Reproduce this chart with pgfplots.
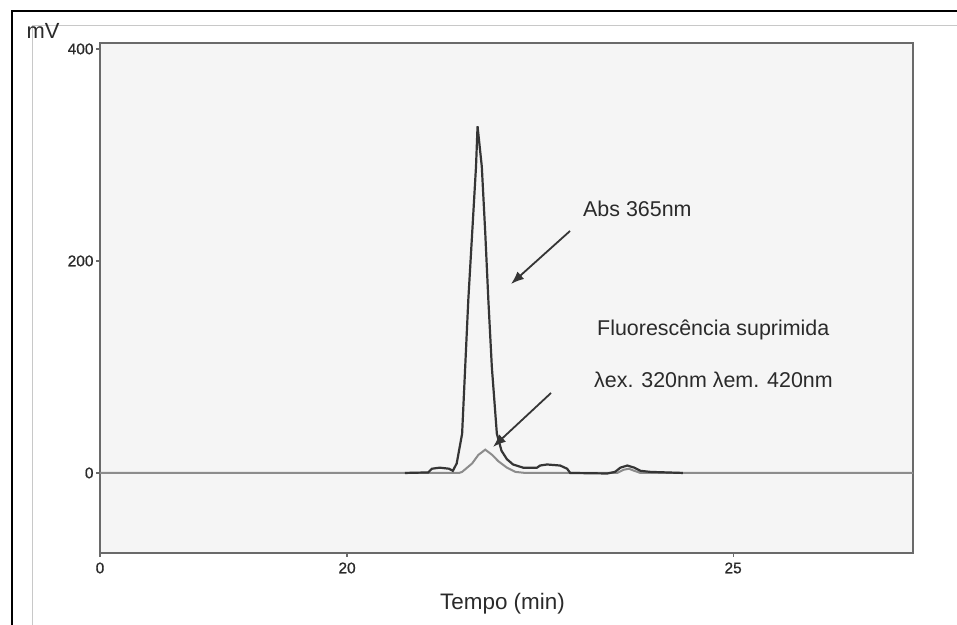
\documentclass[border=0pt]{standalone}
\usepackage{fontspec}
\setmainfont{Liberation Sans}
\newfontface\tickfont{Liberation Sans}[FakeBold=0.7]
\usepackage{pgfplots}
\pgfplotsset{compat=1.18}
\usetikzlibrary{arrows.meta}
\definecolor{curvedark}{HTML}{353535}
\definecolor{curvelight}{HTML}{8C8C8C}
\definecolor{axisgray}{HTML}{6A6A6A}
\definecolor{bggray}{HTML}{F5F5F5}
\definecolor{framegray}{HTML}{C8C8C8}
\definecolor{textdark}{HTML}{2A2A2A}
\begin{document}
\begin{tikzpicture}[x=1bp,y=1bp]
\useasboundingbox (0,0) rectangle (957,625);
\fill[white] (0,0) rectangle (957,625);
\draw[framegray, line width=1bp] (32,0) -- (32,599) -- (957,599);
\draw[black, line width=2.2bp] (12,0) -- (12,614) -- (957,614);
\begin{axis}[
  at={(100bp,72bp)}, anchor=south west,
  scale only axis, width=813bp, height=510bp,
  xmin=16.8, xmax=27.33, ymin=-75.5, ymax=405.6,
  axis background/.style={fill=bggray},
  axis line style={draw=axisgray, line width=2bp},
  xtick={16.8,20,25}, xticklabels={0,20,25},
  ytick={0,200,400}, yticklabels={0,200,400},
  tick pos=left, tick align=outside,
  major tick length=4bp,
  tick style={draw=axisgray, line width=1.2bp},
  tick label style={font=\tickfont\fontsize{15.5}{17}\selectfont, text=textdark},
  yticklabel style={xshift=1bp},
  xticklabel style={yshift=-2bp},
  clip=true,
]
\addplot[curvelight, line width=2bp] coordinates {
(16.80,0) (21.45,0) (21.49,1) (21.62,9) (21.70,17) (21.79,22) (21.88,17)
(21.96,11) (22.07,5) (22.18,1) (22.31,0) (23.50,0) (23.58,3) (23.65,4)
(23.72,2) (23.80,0) (27.33,0)
};
\addplot[curvedark, line width=2.2bp] coordinates {
(20.75,0) (21.05,0.5) (21.10,4) (21.20,5) (21.32,4) (21.37,2) (21.42,9)
(21.49,37) (21.53,100) (21.57,163) (21.62,226) (21.67,289) (21.69,327)
(21.745,289) (21.79,226) (21.83,163) (21.875,100) (21.94,37) (22.00,21)
(22.07,13) (22.15,8) (22.28,5) (22.46,5) (22.50,7) (22.59,8) (22.76,7)
(22.85,4) (22.89,0) (23.37,-0.5) (23.47,1) (23.54,5) (23.63,7) (23.72,5)
(23.80,2) (23.93,1) (24.35,0)
};
\end{axis}
\node[font=\fontsize{22}{24}\selectfont, text=textdark] at (43,594) {mV};
\node[font=\fontsize{22.5}{25}\selectfont, text=textdark] at (502.5,21) {Tempo (min)};
\node[font=\fontsize{21.5}{24}\selectfont, text=textdark, anchor=west, inner sep=0pt] at (583,416.5) {Abs 365nm};
\node[font=\fontsize{21.5}{24}\selectfont, text=textdark, anchor=west, inner sep=0pt] at (597,295) {Fluorescência suprimida};
\node[font=\fontsize{21.5}{24}\selectfont, text=textdark, anchor=west, inner sep=0pt] at (594,245) {λex. 320nm λem. 420nm};
\draw[curvedark, line width=1.8bp, -{Latex[length=13bp,width=10bp]}] (570,394) -- (511,341);
\draw[curvedark, line width=1.8bp, -{Latex[length=13bp,width=10bp]}] (551,232) -- (493,178);
\end{tikzpicture}
\end{document}
